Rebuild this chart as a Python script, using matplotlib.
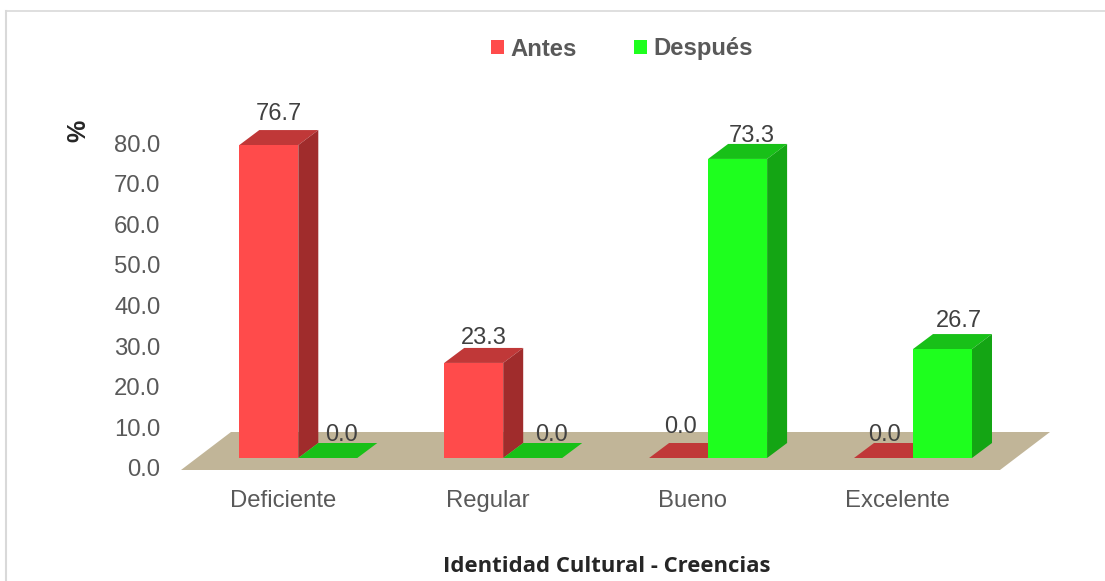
import numpy as np
import matplotlib
matplotlib.use("Agg")
import matplotlib.pyplot as plt
from matplotlib.lines import Line2D
from matplotlib.patches import Polygon

categorias = ["Deficiente", "Regular", "Bueno", "Excelente"]
antes = [76.7, 23.3, 0.0, 0.0]
despues = [0.0, 0.0, 73.3, 26.7]
y_ticks = [0, 10, 20, 30, 40, 50, 60, 70, 80]

W, H = 1105, 581
plt.rcParams["font.family"] = ["Liberation Sans", "DejaVu Sans"]

# pixel geometry
AX_L, AX_R, AX_T, AX_B = 170, 1060, 60, 480
GROUP_0, GROUP_STEP = 298.3, 204.9
BASE_PY, PX_PER_UNIT = 458, 4.08
TICK_0_PY, TICK_STEP = 468, 4.0625

DX = 20 / GROUP_STEP   # depth of the bars
DY = 15 / PX_PER_UNIT
BAR_W = 59 / GROUP_STEP

fig = plt.figure(figsize=(W / 100, H / 100), dpi=100, facecolor="white")
ax = fig.add_axes([AX_L / W, 1 - AX_B / H, (AX_R - AX_L) / W, (AX_B - AX_T) / H])
ax.set_xlim((AX_L - GROUP_0) / GROUP_STEP, (AX_R - GROUP_0) / GROUP_STEP)
ax.set_ylim((BASE_PY - AX_B) / PX_PER_UNIT, (BASE_PY - AX_T) / PX_PER_UNIT)
for s in ax.spines.values():
    s.set_visible(False)
ax.patch.set_alpha(0)

# outer frame, only top and left
fig.add_artist(Line2D([5.5 / W, 1], [1 - 10.5 / H] * 2, color="#d9d9d9", lw=1.2))
fig.add_artist(Line2D([6 / W] * 2, [0, 1 - 10.5 / H], color="#d9d9d9", lw=1.5))

# floor
fl, fr = (181 - GROUP_0) / GROUP_STEP, (1000 - GROUP_0) / GROUP_STEP
fy0, fy1 = (BASE_PY - 470) / PX_PER_UNIT, (BASE_PY - 432) / PX_PER_UNIT
fdx = 50 / GROUP_STEP
ax.add_patch(Polygon([(fl, fy0), (fr, fy0), (fr + fdx, fy1), (fl + fdx, fy1)],
                     facecolor="#c1b598", edgecolor="none", zorder=1))


def bars_3d(x, vals, front, side, top, label):
    bars = ax.bar(x, vals, BAR_W, align="edge", color=front, label=label, zorder=3)
    for xi, v in zip(x, vals):
        ax.add_patch(Polygon([(xi, v), (xi + BAR_W, v), (xi + BAR_W + DX, v + DY), (xi + DX, v + DY)],
                             facecolor=top, edgecolor="none", zorder=2.5))
        if v > 0:
            ax.add_patch(Polygon([(xi + BAR_W, 0), (xi + BAR_W + DX, DY), (xi + BAR_W + DX, v + DY), (xi + BAR_W, v)],
                                 facecolor=side, edgecolor="none", zorder=2.5))
    return bars


x = np.arange(len(categorias))
b1 = bars_3d(x - BAR_W, antes, "#ff4b4b", "#a02c2c", "#c03838", "Antes")
b2 = bars_3d(x, despues, "#1eff1e", "#14a514", "#18c018", "Después")

# labels were placed by hand in the original, so each has its own offset (px)
off_antes = [(0.5, 16), (0, 10), (-8, 16), (-9, 8)]
off_despues = [(3.5, 8), (8.5, 8), (4.5, 8), (6, 13)]
for xs, vals, offs in [(x - BAR_W, antes, off_antes), (x, despues, off_despues)]:
    for xi, v, (ox, oy) in zip(xs, vals, offs):
        ax.annotate(f"{v:.1f}", (xi + BAR_W / 2 + DX / 2, v + DY),
                    xytext=(ox * 0.72, oy * 0.72), textcoords="offset points",
                    ha="center", va="center", fontsize=17, color="#404040", zorder=2)

# axis ticks: the scale starts at the floor front, not at the bar base
ax.set_yticks([(BASE_PY - (TICK_0_PY - t * TICK_STEP)) / PX_PER_UNIT for t in y_ticks])
ax.set_yticklabels([f"{t:.1f}" for t in y_ticks])
ax.set_xticks(x - 15.5 / GROUP_STEP)
ax.set_xticklabels(categorias)
ax.tick_params(axis="y", length=0, pad=7, labelsize=17.2, labelcolor="#595959")
ax.tick_params(axis="x", length=0, pad=7, labelsize=17.2, labelcolor="#595959")

fig.text(78 / W, 1 - 131 / H, "%", rotation=90, ha="center", va="center",
         fontsize=18, fontweight="bold", color="#262626")
fig.text(607 / W, 1 - 566.5 / H, "Identidad Cultural - Creencias", ha="center", va="center",
         fontsize=15.9, fontweight="bold", color="#262626", family=["Open Sans", "DejaVu Sans"])

leg = fig.legend(handles=[b1, b2], labels=["Antes", "Después"], ncol=2, frameon=False,
                 loc="center", bbox_to_anchor=(622 / W, 1 - 49 / H),
                 handlelength=0.55, handleheight=0.55, handletextpad=0.25, columnspacing=2.4,
                 prop={"size": 17.2, "weight": "bold"})
for t in leg.get_texts():
    t.set_color("#595959")

fig.savefig("out.png", dpi=100)
